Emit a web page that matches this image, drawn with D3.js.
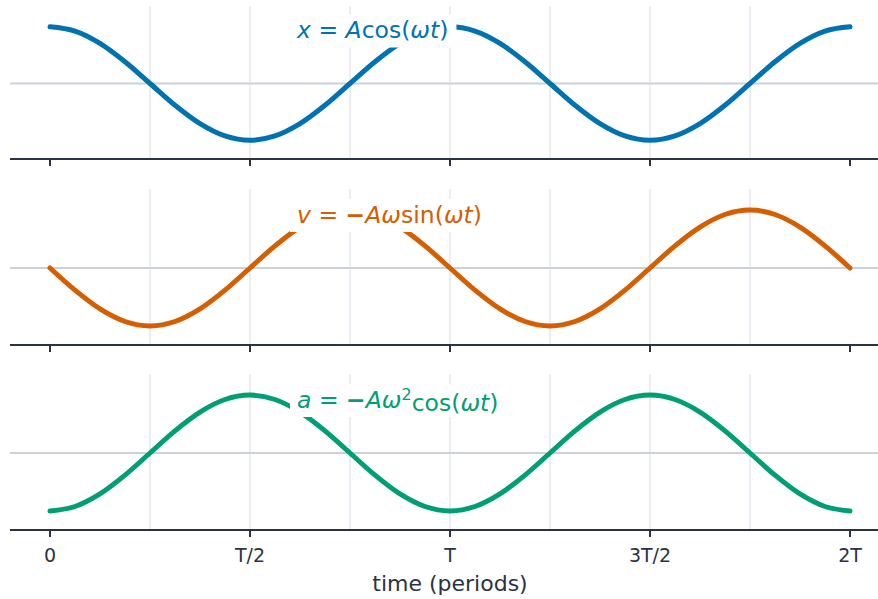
<!DOCTYPE html>
<html>
<head>
<meta charset="UTF-8">
<title>Simple harmonic motion</title>
<script src="https://d3js.org/d3.v7.min.js"></script>
<style>
  body { margin: 0; background: #fff; }
  svg { font-family: "DejaVu Sans", sans-serif; }
</style>
</head>
<body>
<div id="chart"></div>
<script>
// time in periods, 1/16 period apart
var times = [0, 0.0625, 0.125, 0.1875, 0.25, 0.3125, 0.375, 0.4375, 0.5, 0.5625, 0.625, 0.6875, 0.75, 0.8125, 0.875, 0.9375,
             1, 1.0625, 1.125, 1.1875, 1.25, 1.3125, 1.375, 1.4375, 1.5, 1.5625, 1.625, 1.6875, 1.75, 1.8125, 1.875, 1.9375, 2];

// values (normalised to amplitude 1)
var position = [1, 0.924, 0.707, 0.383, 0, -0.383, -0.707, -0.924, -1, -0.924, -0.707, -0.383, 0, 0.383, 0.707, 0.924,
                1, 0.924, 0.707, 0.383, 0, -0.383, -0.707, -0.924, -1, -0.924, -0.707, -0.383, 0, 0.383, 0.707, 0.924, 1];
var velocity = [0, -0.383, -0.707, -0.924, -1, -0.924, -0.707, -0.383, 0, 0.383, 0.707, 0.924, 1, 0.924, 0.707, 0.383,
                0, -0.383, -0.707, -0.924, -1, -0.924, -0.707, -0.383, 0, 0.383, 0.707, 0.924, 1, 0.924, 0.707, 0.383, 0];
var acceleration = [-1, -0.924, -0.707, -0.383, 0, 0.383, 0.707, 0.924, 1, 0.924, 0.707, 0.383, 0, -0.383, -0.707, -0.924,
                    -1, -0.924, -0.707, -0.383, 0, 0.383, 0.707, 0.924, 1, 0.924, 0.707, 0.383, 0, -0.383, -0.707, -0.924, -1];

var tickValues = [0, 0.5, 1, 1.5, 2];
var tickLabels = ["0", "T/2", "T", "3T/2", "2T"];
var gridValues = [0.25, 0.5, 0.75, 1, 1.25, 1.5, 1.75];

// label pieces: [text, style, superscript?]  style: 0 upright, 1 italic, 2 bold
var labels = [
  [["x", 1], [" = ", 0], ["A", 1], ["cos(", 0], ["ωt", 1], [")", 0]],
  [["v", 1], [" = ", 0], ["−", 2], ["Aω", 1], ["sin(", 0], ["ωt", 1], [")", 0]],
  [["a", 1], [" = ", 0], ["−", 2], ["Aω", 1], ["2", 0, 1], ["cos(", 0], ["ωt", 1], [")", 0]]
];
var series = [position, velocity, acceleration];
var colours = ["#0072B2", "#D55E00", "#009E73"];

var width = 878, height = 599;
var axisY = [159, 345, 530];
var zeroY = [83.5, 268, 453];

var svg = d3.select("#chart").append("svg")
    .attr("width", width)
    .attr("height", height);

var x = d3.scaleLinear().domain([-0.1, 2.1]).range([10, 890]);

series.forEach(function(values, i) {
    var y = d3.scaleLinear()
        .domain([-1.33, 1.33])
        .range([axisY[i], 2 * zeroY[i] - axisY[i]]);
    var g = svg.append("g");

    // vertical grid
    g.selectAll(".grid").data(gridValues).enter().append("line")
        .attr("x1", function(d) { return x(d); })
        .attr("x2", function(d) { return x(d); })
        .attr("y1", y(1.33) - 2)
        .attr("y2", axisY[i])
        .attr("stroke", "#e6e7ee")
        .attr("stroke-width", 1.5);

    // zero line
    g.append("line")
        .attr("x1", 10).attr("x2", width)
        .attr("y1", y(0)).attr("y2", y(0))
        .attr("stroke", "#ccd0db")
        .attr("stroke-width", 2);

    // curve
    var line = d3.line()
        .x(function(d, j) { return x(times[j]); })
        .y(function(d) { return y(d); })
        .curve(d3.curveMonotoneX);
    g.append("path")
        .datum(values)
        .attr("d", line)
        .attr("fill", "none")
        .attr("stroke", colours[i])
        .attr("stroke-width", 5)
        .attr("stroke-linecap", "round");

    // label with white box
    var box = g.append("rect").attr("fill", "#fff");
    var txt = g.append("text")
        .attr("x", x(0.6) + 7)
        .attr("y", y(0) - 45.5)
        .attr("fill", colours[i])
        .style("font-size", "23.5px");
    var raised = false;
    labels[i].forEach(function(p) {
        var ts = txt.append("tspan")
            .text(p[0])
            .style("font-style", p[1] == 1 ? "italic" : "normal")
            .style("font-weight", p[1] == 2 ? "bold" : "normal");
        if (p[2]) {
            ts.attr("dy", "-0.45em").style("font-size", "16px");
            raised = true;
        } else if (raised) {
            ts.attr("dy", "0.45em");
            raised = false;
        }
    });
    var bb = txt.node().getBBox();
    box.attr("x", x(0.6))
        .attr("y", y(0) - 69)
        .attr("width", bb.width + 14)
        .attr("height", 33);

    // x axis
    var axis = g.append("g")
        .attr("transform", "translate(0," + axisY[i] + ")");
    axis.append("line")
        .attr("x1", 10).attr("x2", width)
        .attr("stroke", "#2a3342")
        .attr("stroke-width", 2);
    axis.selectAll(".tick").data(tickValues).enter().append("line")
        .attr("x1", function(d) { return x(d); })
        .attr("x2", function(d) { return x(d); })
        .attr("y1", 0).attr("y2", 7)
        .attr("stroke", "#2a3342")
        .attr("stroke-width", 2);
    if (i == 2) {
        axis.selectAll(".lab").data(tickValues).enter().append("text")
            .attr("x", function(d) { return x(d); })
            .attr("y", 32)
            .attr("text-anchor", "middle")
            .attr("fill", "#2a3342")
            .style("font-size", "19px")
            .text(function(d, j) { return tickLabels[j]; });
    }
});

svg.append("text")
    .attr("x", x(1))
    .attr("y", 591)
    .attr("text-anchor", "middle")
    .attr("fill", "#2a3342")
    .style("font-size", "22px")
    .text("time (periods)");
</script>
</body>
</html>
